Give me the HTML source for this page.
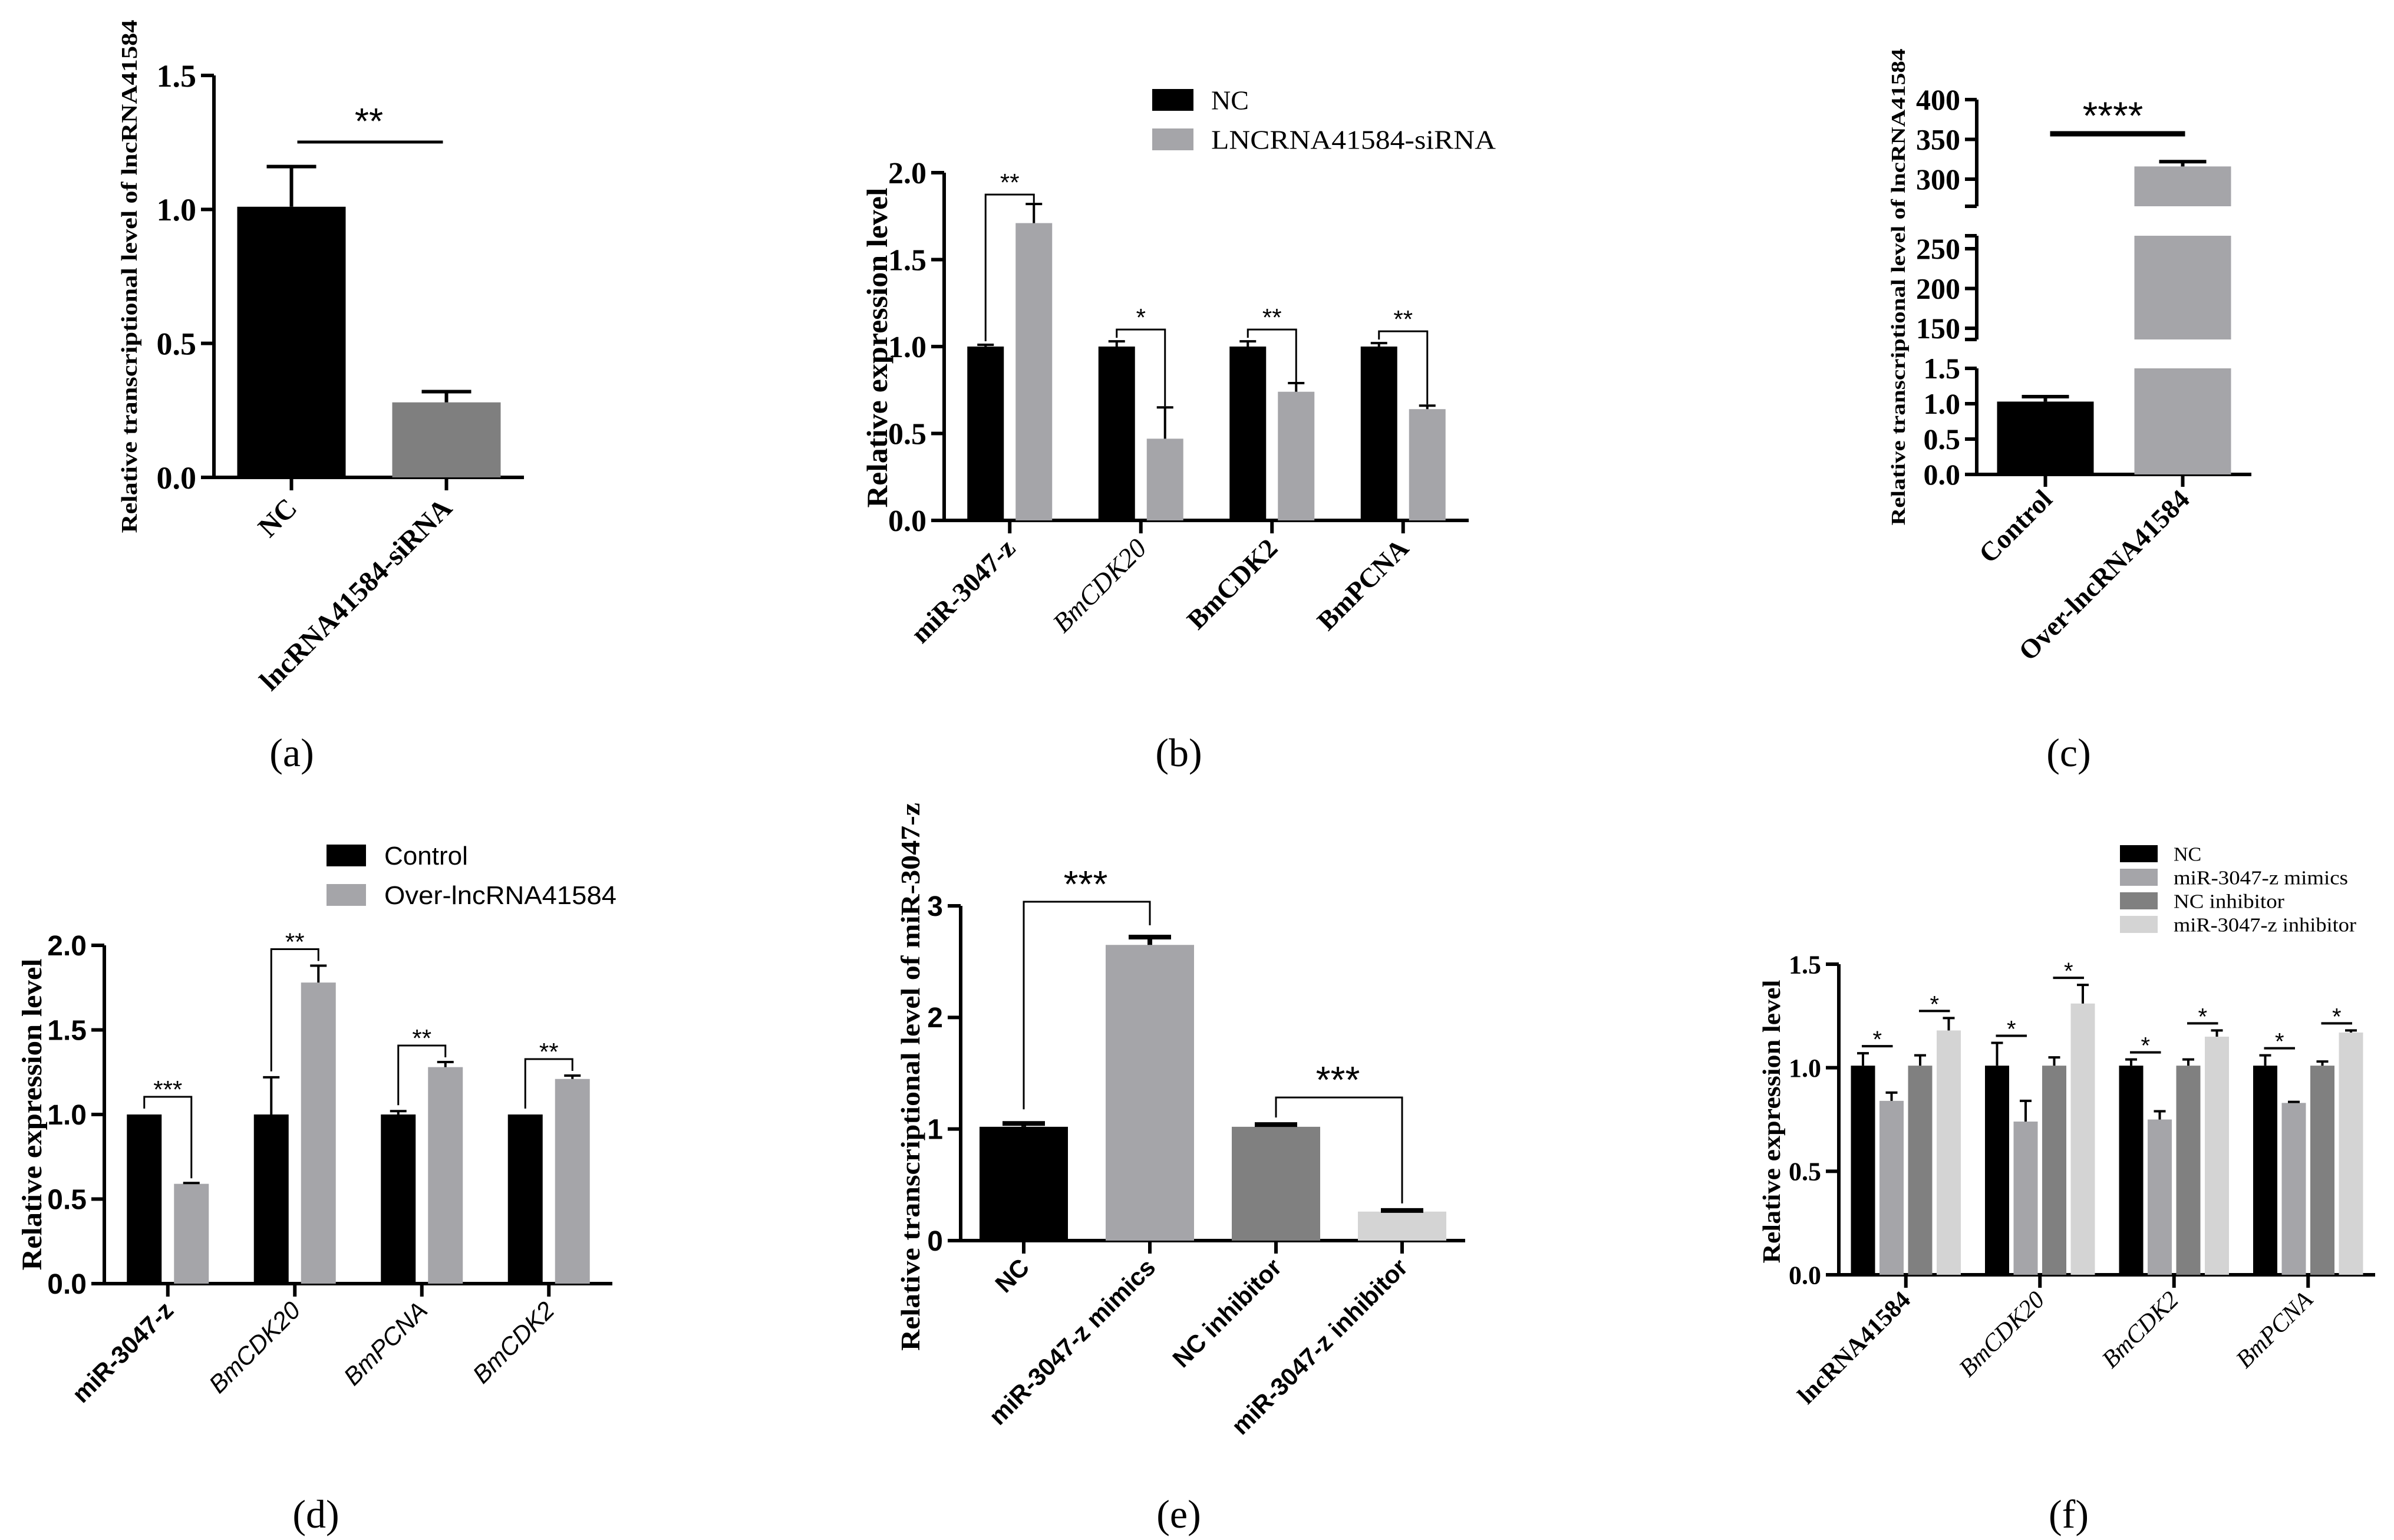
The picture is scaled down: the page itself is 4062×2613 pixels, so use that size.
<!DOCTYPE html>
<html><head><meta charset="utf-8"><title>lncRNA41584 figure</title>
<style>html,body{margin:0;padding:0;background:#fff}svg{display:block}</style></head>
<body>
<svg id="fig" xmlns="http://www.w3.org/2000/svg" width="4062" height="2613" viewBox="0 0 4062 2613">
<rect x="0" y="0" width="4062" height="2613" fill="#fff"/>
</svg>
<script>
// ---- data ----
const aCats = ["NC", "lncRNA41584-siRNA"];
const aVals = [1.01, 0.28];
const aErrs = [0.15, 0.04];
const aTicks = [0, 0.5, 1.0, 1.5];

const bCats = ["miR-3047-z", "BmCDK20", "BmCDK2", "BmPCNA"];
const bNC = [1.0, 1.0, 1.0, 1.0];
const bNCErr = [0.01, 0.03, 0.03, 0.02];
const bSi = [1.71, 0.47, 0.74, 0.64];
const bSiErr = [0.11, 0.18, 0.05, 0.02];
const bStars = ["**", "*", "**", "**"];
const bTicks = [0, 0.5, 1.0, 1.5, 2.0];

const cCats = ["Control", "Over-lncRNA41584"];
const cVals = [1.03, 316];
const cErrs = [0.07, 6];
const cTicksLow = [0, 0.5, 1.0, 1.5];
const cTicksMid = [150, 200, 250];
const cTicksHigh = [300, 350, 400];

const dCats = ["miR-3047-z", "BmCDK20", "BmPCNA", "BmCDK2"];
const dCtrl = [1.0, 1.0, 1.0, 1.0];
const dCtrlErr = [0.0, 0.22, 0.02, 0.0];
const dOver = [0.59, 1.78, 1.28, 1.21];
const dOverErr = [0.005, 0.1, 0.03, 0.02];
const dStars = ["***", "**", "**", "**"];
const dTicks = [0, 0.5, 1.0, 1.5, 2.0];

const eCats = ["NC", "miR-3047-z mimics", "NC inhibitor", "miR-3047-z inhibitor"];
const eVals = [1.02, 2.65, 1.02, 0.26];
const eErrs = [0.03, 0.07, 0.02, 0.01];
const eTicks = [0, 1, 2, 3];

const fCats = ["lncRNA41584", "BmCDK20", "BmCDK2", "BmPCNA"];
const fNC = [1.01, 1.01, 1.01, 1.01];
const fNCErr = [0.06, 0.11, 0.03, 0.05];
const fMim = [0.84, 0.74, 0.75, 0.83];
const fMimErr = [0.04, 0.10, 0.04, 0.005];
const fNCi = [1.01, 1.01, 1.01, 1.01];
const fNCiErr = [0.05, 0.04, 0.03, 0.02];
const fInh = [1.18, 1.31, 1.15, 1.17];
const fInhErr = [0.06, 0.09, 0.03, 0.01];
const fTicks = [0, 0.5, 1.0, 1.5];

// ---- helpers ----
const NS = "http://www.w3.org/2000/svg";
const svg = document.getElementById("fig");
const SERIF = '"Liberation Serif", serif';
const SANS = '"Liberation Sans", sans-serif';
function el(tag, attrs, parent) {
  const e = document.createElementNS(NS, tag);
  for (const k in attrs) e.setAttribute(k, attrs[k]);
  (parent || svg).appendChild(e);
  return e;
}
function group(name) {
  const g = el("g", {});
  
  
  return g;
}
function line(g, x1, y1, x2, y2, w) {
  return el("line", {x1, y1, x2, y2, stroke: "#000", "stroke-width": w || 5}, g);
}
function text(g, x, y, s, opts) {
  const t = el("text", Object.assign({x, y, fill: "#000"}, opts || {}), g);
  t.textContent = s;
  return t;
}
function mkScale(v0, v1, p0, p1) { return v => p0 + (v - v0) * (p1 - p0) / (v1 - v0); }

function axes(g, x0, x1, y0, yTop, yS, ticks, fmt, tfont, tsize, tweight, nCats, aw) {
  const ax = line(g, x0, y0 + aw / 2, x0, yTop, aw);
  
  
  const xa = line(g, x0 - aw / 2, y0, x1, y0, aw);
  
  
  ticks.forEach(t => {
    const y = yS(t);
    line(g, x0 - 22, y, x0, y, aw);
    const lb = text(g, x0 - 30, y + tsize * 0.35, fmt(t), {"font-family": tfont, "font-size": tsize, "font-weight": tweight, "text-anchor": "end"});
    
    
  });
  const cx = [];
  for (let i = 0; i < nCats; i++) {
    const x = x0 + (i + 0.5) * (x1 - x0) / nCats;
    cx.push(x);
    line(g, x, y0, x, y0 + 22, aw);
  }
  return cx;
}
function catLabel(g, x, y, s, font, size, weight, style) {
  const t = text(g, x, y, s, {"font-family": font, "font-size": size, "font-weight": weight, "font-style": style || "normal", "text-anchor": "end", transform: `rotate(-45 ${x} ${y})`});
  
  
}
function yTitle(g, x, y, s, font, size, len) {
  const t = text(g, x, y, s, {"font-family": font, "font-size": size, "font-weight": "bold", "text-anchor": "middle", transform: `rotate(-90 ${x} ${y})`, textLength: len, lengthAdjust: "spacingAndGlyphs"});
  
  
}
function bar(g, cx, w, yTopPx, y0, color) {
  const r = el("rect", {x: cx - w / 2, y: yTopPx, width: w, height: y0 - yTopPx, fill: color}, g);
  
  
  return r;
}
function errBar(g, cx, yv, ye, cap, w) {
  line(g, cx, yv, cx, ye, w || 5);
  const c = line(g, cx - cap / 2, ye, cx + cap / 2, ye, w || 5);
  
  
}
function panelLabel(x, y, s) {
  const t = text(svg, x, y, "(" + s + ")", {"font-family": SERIF, "font-size": 68, "text-anchor": "middle"});
  
  
}
function stars(g, x, y, s, size) {
  const t = text(g, x, y, s, {"font-family": SANS, "font-size": size, "text-anchor": "middle"});
  
  
}
function bracket(g, xa, ya, xb, yb, yl, w) {
  const p = el("polyline", {points: `${xa},${ya} ${xa},${yl} ${xb},${yl} ${xb},${yb}`, fill: "none", stroke: "#000", "stroke-width": w || 4}, g);
  
  
}
function legendItem(g, x, y, w, h, color, label, font, size, tx, len) {
  const r = el("rect", {x, y, width: w, height: h, fill: color}, g);
  
  
  const t = text(g, tx, y + h / 2 + size * 0.35, label, {"font-family": font, "font-size": size});
  if (len) { t.setAttribute("textLength", len); t.setAttribute("lengthAdjust", "spacingAndGlyphs"); }
  
  
}

// ---- panel a ----
(function () {
  const g = group("panel-a-chart");
  const x0 = 363, x1 = 889, y0 = 810, yTop = 128;
  const yS = mkScale(0, 1.5, y0, yTop);
  const cx = axes(g, x0, x1, y0, yTop, yS, aTicks, v => v.toFixed(1), SERIF, 54, "bold", aCats.length, 6);
  const cols = ["#000", "#7f7f7f"];
  aVals.forEach((v, i) => {
    bar(g, cx[i], 184, yS(v), y0, cols[i]);
    errBar(g, cx[i], yS(v), yS(v + aErrs[i]), 84, 6);
    catLabel(g, cx[i] + 12, y0 + 55, aCats[i], SERIF, 48, "bold");
  });
  const top = 241;
  const sl = line(g, cx[0] + 10, top, cx[1] - 6, top, 5);
  
  
  stars(g, (cx[0] + cx[1]) / 2, top - 14, "**", 62);
  yTitle(g, 232, 469, "Relative  transcriptional level of lncRNA41584", SERIF, 38, 871);
  panelLabel(495, 1300, "a");
})();

// ---- panel b ----
(function () {
  const g = group("panel-b-chart");
  const x0 = 1602, x1 = 2492, y0 = 883, yTop = 293;
  const yS = mkScale(0, 2.0, y0, yTop);
  const cx = axes(g, x0, x1, y0, yTop, yS, bTicks, v => v.toFixed(1), SERIF, 52, "bold", bCats.length, 6);
  const bw = 62, off = 41;
  bCats.forEach((c, i) => {
    const xa = cx[i] - off, xb = cx[i] + off;
    bar(g, xa, bw, yS(bNC[i]), y0, "#000");
    bar(g, xb, bw, yS(bSi[i]), y0, "#a5a5a9");
    errBar(g, xa, yS(bNC[i]), yS(bNC[i] + bNCErr[i]), 28, 4);
    errBar(g, xb, yS(bSi[i]), yS(bSi[i] + bSiErr[i]), 28, 4);
    const ta = yS(bNC[i] + bNCErr[i]) - 6, tb = yS(bSi[i] + bSiErr[i]) - 2;
    const yl = Math.min(ta, tb) - 14;
    bracket(g, xa, ta, xb, tb, yl, 3);
    stars(g, (xa + xb) / 2, yl - 6, bStars[i], 42);
    const it = (i === 1);
    catLabel(g, cx[i] + 12, y0 + 50, c, SERIF, 46, it ? "normal" : "bold", it ? "italic" : "normal");
  });
  const lg = group("panel-b-legend");
  legendItem(lg, 1955, 151, 70, 37, "#000", "NC", SERIF, 46, 2055);
  legendItem(lg, 1955, 218, 70, 37, "#a5a5a9", "LNCRNA41584-siRNA", SERIF, 46, 2055, 483);
  yTitle(g, 1505, 590, "Relative expression level", SERIF, 50, 543);
  panelLabel(2000, 1300, "b");
})();

// ---- panel c (broken axis) ----
(function () {
  const g = group("panel-c-chart");
  const x0 = 3354, x1 = 3820, aw = 6;
  const sLow = mkScale(0, 1.5, 805, 625);
  const sMid = mkScale(150, 250, 557, 422);
  const sHigh = mkScale(300, 400, 304, 169);
  const segs = [[805, 625, sLow, cTicksLow, v => v.toFixed(1)], [576, 400, sMid, cTicksMid, v => String(v)], [350, 169, sHigh, cTicksHigh, v => String(v)]];
  segs.forEach(([yb, yt, sc, tk, fmt]) => {
    const ax = line(g, x0, yb, x0, yt, aw);
    
    
    line(g, x0 - 20, yb, x0, yb, aw);
    line(g, x0 - 20, yt, x0, yt, aw);
    tk.forEach(t => {
      const y = sc(t);
      line(g, x0 - 20, y, x0, y, aw);
      const lb = text(g, x0 - 28, y + 17, fmt(t), {"font-family": SERIF, "font-size": 50, "font-weight": "bold", "text-anchor": "end"});
      
      
    });
  });
  const xa = line(g, x0 - 20, 805, x1, 805, aw);
  
  
  const cx = [x0 + 0.25 * (x1 - x0), x0 + 0.75 * (x1 - x0)];
  cx.forEach(x => line(g, x, 805, x, 826, aw));
  bar(g, cx[0], 164, sLow(cVals[0]), 805, "#000");
  errBar(g, cx[0], sLow(cVals[0]), sLow(cVals[0] + cErrs[0]), 80, 6);
  bar(g, cx[1], 164, 625, 805, "#a5a5a9");
  bar(g, cx[1], 164, 400, 576, "#a5a5a9");
  bar(g, cx[1], 164, sHigh(cVals[1]), 350, "#a5a5a9");
  errBar(g, cx[1], sHigh(cVals[1]), sHigh(cVals[1] + cErrs[1]), 80, 6);
  const yl = 227;
  const sl = line(g, cx[0] + 8, yl, cx[1] + 4, yl, 9);
  
  
  stars(g, (cx[0] + cx[1]) / 2 - 2, yl - 8, "****", 66);
  cCats.forEach((c, i) => catLabel(g, cx[i] + 14, 850, c, SERIF, 46, "bold"));
  yTitle(g, 3232, 487, "Relative  transcriptional level of lncRNA41584", SERIF, 34, 809);
  panelLabel(3510, 1300, "c");
})();

// ---- panel d ----
(function () {
  const g = group("panel-d-chart");
  const x0 = 177, x1 = 1039, y0 = 2178, yTop = 1604;
  const yS = mkScale(0, 2.0, y0, yTop);
  const cx = axes(g, x0, x1, y0, yTop, yS, dTicks, v => v.toFixed(1), SANS, 48, "bold", dCats.length, 6);
  const bw = 59, off = 40;
  dCats.forEach((c, i) => {
    const xa = cx[i] - off, xb = cx[i] + off;
    bar(g, xa, bw, yS(dCtrl[i]), y0, "#000");
    bar(g, xb, bw, yS(dOver[i]), y0, "#a5a5a9");
    if (dCtrlErr[i] > 0) errBar(g, xa, yS(dCtrl[i]), yS(dCtrl[i] + dCtrlErr[i]), 28, 4);
    errBar(g, xb, yS(dOver[i]), yS(dOver[i] + dOverErr[i]), 28, 4);
    const ta = yS(dCtrl[i] + dCtrlErr[i]) - 10, tb = yS(dOver[i] + dOverErr[i]) - 8;
    const yl = Math.min(ta, tb) - 20;
    bracket(g, xa, ta, xb, tb, yl, 3);
    stars(g, (xa + xb) / 2, yl + 2, dStars[i], 42);
    catLabel(g, cx[i] + 12, y0 + 48, c, SANS, 42, i === 0 ? "bold" : "normal", i === 0 ? "normal" : "italic");
  });
  const lg = group("panel-d-legend");
  legendItem(lg, 554, 1433, 67, 37, "#000", "Control", SANS, 44, 652);
  legendItem(lg, 554, 1500, 67, 37, "#a5a5a9", "Over-lncRNA41584", SANS, 44, 652, 394);
  yTitle(g, 70, 1891, "Relative expression level", SERIF, 48, 529);
  panelLabel(536, 2592, "d");
})();

// ---- panel e ----
(function () {
  const g = group("panel-e-chart");
  const x0 = 1630, x1 = 2486, y0 = 2105, yTop = 1537;
  const yS = mkScale(0, 3, y0, yTop);
  const cx = axes(g, x0, x1, y0, yTop, yS, eTicks, v => String(v), SANS, 48, "bold", eCats.length, 6);
  const cols = ["#000", "#a5a5a9", "#808080", "#d4d4d4"];
  eVals.forEach((v, i) => {
    bar(g, cx[i], 150, yS(v), y0, cols[i]);
    errBar(g, cx[i], yS(v), yS(v + eErrs[i]), 72, 8);
    catLabel(g, cx[i] + 12, y0 + 48, eCats[i], SANS, 42, "bold");
  });
  [[0, 1], [2, 3]].forEach(([a, b], k) => {
    const ta = yS(eVals[a] + eErrs[a]) - (k === 0 ? 24 : 12);
    const tb = yS(eVals[b] + eErrs[b]) - (k === 0 ? 20 : 12);
    const yl = Math.min(ta, tb) - (k === 0 ? 40 : 34);
    bracket(g, cx[a], ta, cx[b], tb, yl, 3);
    stars(g, (cx[a] + cx[b]) / 2 - 2, yl - 8, "***", 64);
  });
  yTitle(g, 1560, 1827, "Relative transcriptional level of miR-3047-z", SERIF, 46, 930);
  panelLabel(2000, 2592, "e");
})();

// ---- panel f ----
(function () {
  const g = group("panel-f-chart");
  const x0 = 3120, x1 = 4030, y0 = 2163, yTop = 1636;
  const yS = mkScale(0, 1.5, y0, yTop);
  const cx = axes(g, x0, x1, y0, yTop, yS, fTicks, v => v.toFixed(1), SERIF, 44, "bold", fCats.length, 6);
  const series = [[fNC, fNCErr, "#000"], [fMim, fMimErr, "#a5a5a9"], [fNCi, fNCiErr, "#808080"], [fInh, fInhErr, "#d4d4d4"]];
  const bw = 41, pitch = 48.5;
  fCats.forEach((c, i) => {
    const xs = series.map((s, j) => cx[i] + (j - 1.5) * pitch);
    series.forEach(([vals, errs, col], j) => {
      bar(g, xs[j], bw, yS(vals[i]), y0, col);
      errBar(g, xs[j], yS(vals[i]), yS(vals[i] + errs[i]), 20, 4);
    });
    [[0, 1], [2, 3]].forEach(([a, b]) => {
      const top = Math.min(yS(series[a][0][i] + series[a][1][i]), yS(series[b][0][i] + series[b][1][i])) - 12;
      const sl = line(g, xs[a] - 2, top, xs[b] + 2, top, 4);
      
      
      stars(g, (xs[a] + xs[b]) / 2, top + 2, "*", 40);
    });
    catLabel(g, cx[i] + 10, y0 + 45, c, SERIF, 42, i === 0 ? "bold" : "normal", i === 0 ? "normal" : "italic");
  });
  const lg = group("panel-f-legend");
  const names = ["NC", "miR-3047-z mimics", "NC inhibitor", "miR-3047-z inhibitor"];
  const lens = [0, 296, 188, 310];
  series.forEach((s, j) => legendItem(lg, 3597, 1434 + j * 40, 64, 29, s[2], names[j], SERIF, 34, 3688, lens[j] || null));
  yTitle(g, 3020, 1903, "Relative expression level", SERIF, 42, 481);
  panelLabel(3510, 2592, "f");
})();
</script>
</body></html>
